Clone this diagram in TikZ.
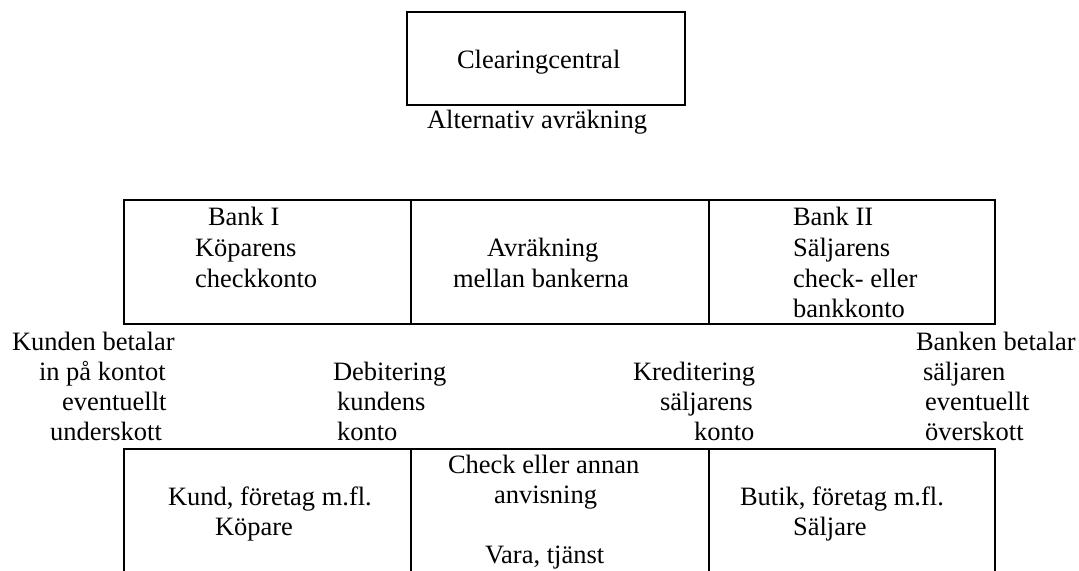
\documentclass[tikz,border=0pt]{standalone}
\usepackage{fontspec}
\setmainfont{Liberation Serif}
\begin{document}
\begin{tikzpicture}[x=0.5pt,y=-0.5pt,
  cell/.style={draw=black, line width=0.6pt, anchor=north west, inner sep=0pt, outer sep=0pt},
  txt/.style={anchor=base west, inner sep=0pt, outer sep=0pt, font=\fontsize{13.25}{15}\selectfont}]
\useasboundingbox (0,0) rectangle (1079,570);
\clip (0,0) rectangle (1079,570);
% clearing central
\node[cell, minimum width=139pt, minimum height=46.5pt] (cc) at (407,12) {};
\node[txt] (cctxt) at (457,68) {Clearingcentral};
\node[txt] (alt) at (427,128) {Alternativ avräkning};
% top row
\node[cell, minimum width=143.5pt, minimum height=62pt] (b1) at (124,200) {};
\node[cell, minimum width=149pt, minimum height=62pt] (av) at (411,200) {};
\node[cell, minimum width=143pt, minimum height=62pt] (b2) at (709,200) {};
\node[txt] (b1a) at (208,225) {Bank I};
\node[txt] (b1b) at (195,256) {Köparens};
\node[txt] (b1c) at (195,287) {checkkonto};
\node[txt] (ava) at (487,256) {Avräkning};
\node[txt] (avb) at (453,287) {mellan bankerna};
\node[txt] (b2a) at (793,225) {Bank II};
\node[txt] (b2b) at (793,256) {Säljarens};
\node[txt] (b2c) at (793,287) {check- eller};
\node[txt] (b2d) at (793,317) {bankkonto};
% middle labels
\node[txt] (l1) at (12,350) {Kunden betalar};
\node[txt] (l2) at (39,380) {in på kontot};
\node[txt] (l3) at (62,410) {eventuellt};
\node[txt] (l4) at (50,440) {underskott};
\node[txt] (d1) at (333,380) {Debitering};
\node[txt] (d2) at (337,410) {kundens};
\node[txt] (d3) at (337,440) {konto};
\node[txt] (k1) at (633,380) {Kreditering};
\node[txt] (k2) at (660,410) {säljarens};
\node[txt] (k3) at (694,440) {konto};
\node[txt] (r1) at (916,350) {Banken betalar};
\node[txt] (r2) at (923,380) {säljaren};
\node[txt] (r3) at (925,410) {eventuellt};
\node[txt] (r4) at (925,440) {överskott};
% bottom row
\node[cell, minimum width=143.5pt, minimum height=80pt] (kund) at (124,449) {};
\node[cell, minimum width=149pt, minimum height=80pt] (check) at (411,449) {};
\node[cell, minimum width=143pt, minimum height=80pt] (butik) at (709,449) {};
\node[txt] (ku1) at (168,505) {Kund, företag m.fl.};
\node[txt] (ku2) at (215,535) {Köpare};
\node[txt] (c1) at (448,473) {Check eller annan};
\node[txt] (c2) at (494,503) {anvisning};
\node[txt] (c3) at (485,563) {Vara, tjänst};
\node[txt] (bu1) at (740,505) {Butik, företag m.fl.};
\node[txt] (bu2) at (793,535) {Säljare};
\end{tikzpicture}
\end{document}
